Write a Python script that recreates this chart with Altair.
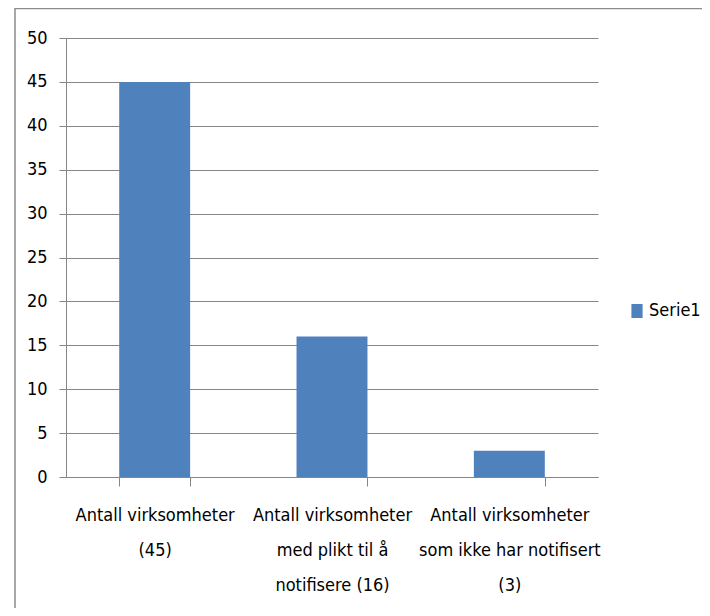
import altair as alt
import pandas as pd

categories = [
    "Antall virksomheter\n(45)",
    "Antall virksomheter\nmed plikt til å\nnotifisere (16)",
    "Antall virksomheter\nsom ikke har notifisert\n(3)",
]
values = [45, 16, 3]
series = ["Serie1", "Serie1", "Serie1"]
y_ticks = [0, 5, 10, 15, 20, 25, 30, 35, 40, 45, 50]

FONT = "Liberation Sans Narrow, DejaVu Sans Condensed, sans-serif"
GRAY = "#868686"
BLUE = "#4F81BD"

df = pd.DataFrame({"kategori": categories, "antall": values, "serie": series})

bars = alt.Chart(df).mark_bar().encode(
    x=alt.X(
        "kategori:N",
        sort=categories,
        scale=alt.Scale(paddingInner=0.6, paddingOuter=0.3),
        axis=alt.Axis(
            title=None,
            labelAngle=0,
            tickBand="extent",
            labelExpr="split(datum.label, '\\n')",
            labelLineHeight=35,
            labelFont=FONT,
            labelFontSize=18,
            labelColor="#000000",
            labelLimit=300,
            labelPadding=20,
            tickSize=9,
            tickColor=GRAY,
            domainColor=GRAY,
        ),
    ),
    y=alt.Y(
        "antall:Q",
        scale=alt.Scale(domain=[0, 50]),
        axis=alt.Axis(
            title=None,
            values=y_ticks,
            grid=True,
            gridColor=GRAY,
            gridOpacity=1,
            tickSize=7,
            tickColor=GRAY,
            domainColor=GRAY,
            labelFont=FONT,
            labelFontSize=18,
            labelColor="#000000",
            labelPadding=12,
        ),
    ),
    color=alt.Color(
        "serie:N",
        scale=alt.Scale(range=[BLUE]),
        legend=alt.Legend(
            title=None,
            orient="none",
            legendX=562,
            legendY=264,
            symbolType="M-0.8,-1H0.8V1H-0.8Z",
            symbolSize=196,
            symbolStrokeWidth=0,
            labelFont=FONT,
            labelFontSize=18,
            labelColor="#000000",
            labelOffset=3,
        ),
    ),
)

frame = alt.Chart(pd.DataFrame({"a": [0]})).mark_rect(
    fill=None, stroke="#8c8c8c", strokeWidth=1.5, clip=False
).encode(
    x=alt.value(-51),
    x2=alt.value(800),
    y=alt.value(-29.5),
    y2=alt.value(700),
)

chart = alt.layer(frame, bars).properties(
    width=532,
    height=439,
    autosize=alt.AutoSizeParams(type="none"),
    padding={"left": 58, "top": 30, "right": 104, "bottom": 131},
).configure_view(stroke=None)

chart.save("out.html", embed_options={"renderer": "svg", "actions": False})
